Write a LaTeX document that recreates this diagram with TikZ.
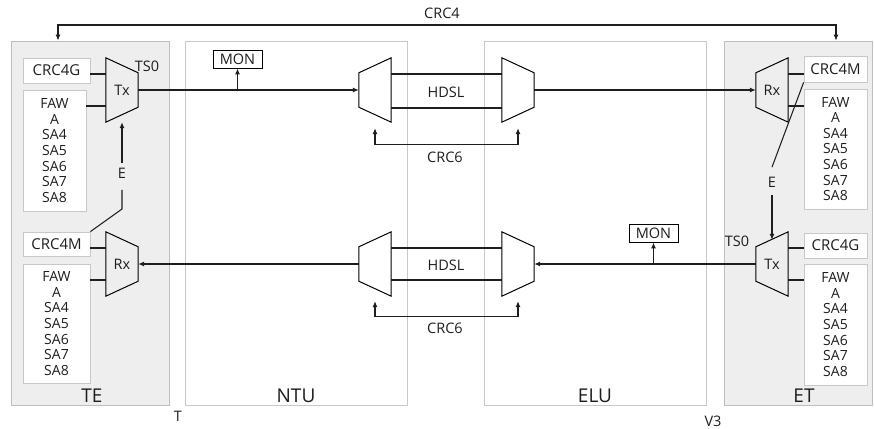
\documentclass[tikz,border=0pt]{standalone}
\usepackage{fontspec}
\setmainfont{Open Sans}
\usetikzlibrary{arrows.meta,calc}
\definecolor{panelfill}{HTML}{EEEEEE}
\definecolor{panelline}{HTML}{BEBEBE}
\definecolor{boxline}{HTML}{C8C8C8}
\definecolor{ink}{HTML}{1E1E1E}

% trapezoid multiplexers drawn on an invisible 32x64 node
\newcommand\muxwideleft[1]{\draw[muxline] (#1.north west) -- ([yshift=-15pt]#1.north east) -- ([yshift=15pt]#1.south east) -- (#1.south west) -- cycle;}
\newcommand\muxwideright[1]{\draw[muxline] ([yshift=-15pt]#1.north west) -- (#1.north east) -- (#1.south east) -- ([yshift=15pt]#1.south west) -- cycle;}

\begin{document}
\begin{tikzpicture}[x=1pt,y=-1pt,
  every node/.style={text=ink, font=\fontsize{14.5}{17}\selectfont},
  panel/.style={draw=panelline, fill=panelfill, line width=0.8pt, inner sep=0pt},
  unit/.style={draw=boxline, fill=white, line width=0.8pt, inner sep=0pt},
  ibox/.style={draw=boxline, fill=white, line width=0.8pt, inner sep=0pt, font=\fontsize{15}{17}\selectfont},
  listbox/.style={ibox, align=center, font=\fontsize{14}{15.6}\selectfont},
  monbox/.style={draw=black, fill=white, line width=0.9pt, inner sep=0pt, minimum width=49pt, minimum height=18pt},
  muxnode/.style={minimum width=32pt, minimum height=64pt, inner sep=0pt},
  muxline/.style={draw=black, line width=1pt},
  wire/.style={draw=ink, line width=1.05pt},
  arr/.style={wire, -{Latex[length=6pt,width=5pt]}},
  darr/.style={wire, {Latex[length=6pt,width=5pt]}-{Latex[length=6pt,width=5pt]}},
  bigl/.style={font=\fontsize{19}{22}\selectfont},
  elab/.style={inner sep=5pt},
]
\path[use as bounding box] (0,0) rectangle (874,428);

% panels
\node[panel, minimum width=158pt, minimum height=364pt] (TE) at (90,223) {};
\node[unit, minimum width=222pt, minimum height=364pt] (NTU) at (296,223) {};
\node[unit, minimum width=222pt, minimum height=364pt] (ELU) at (595,223) {};
\node[panel, minimum width=148pt, minimum height=364pt] (ET) at (798,223) {};

\node[bigl] at (92,396) {TE};
\node[bigl] at (296,396) {NTU};
\node[bigl] at (595,396) {ELU};
\node[bigl] at (804,396) {ET};
\node at (178,416) {T};
\node at (713,421) {V3};

% CRC4 end-to-end check
\coordinate (c4a) at (58,25);
\coordinate (c4b) at (836,25);
\draw[darr] (c4a |- TE.north) -- (c4a) -- (c4b) -- (c4b |- ET.north);
\node at (442,13) {CRC4};

% ---------- upper path: TE Tx -> ET Rx ----------
\node[ibox, minimum width=67pt, minimum height=25pt] (crcG1) at (56.5,70.5) {CRC4G};
\node[listbox, minimum width=63pt, minimum height=121pt] (listA) at (54.5,150.5) {FAW\\A\\SA4\\SA5\\SA6\\SA7\\SA8};
\node[muxnode] (txA) at (122,90) {Tx};
\muxwideleft{txA}
\node at (147,66) {TS0};
\node[monbox] (mon1) at (237.5,59) {MON};

\node[muxnode] (m1) at (375,90) {};
\muxwideright{m1}
\node[muxnode] (m2) at (518,90) {};
\muxwideleft{m2}
\node at (446,92) {HDSL};
\node at (445,157) {CRC6};

\node[muxnode] (rxB) at (772,90) {Rx};
\muxwideright{rxB}
\node[ibox, minimum width=63pt, minimum height=26pt] (crcM2) at (835.5,69) {CRC4M};
\node[listbox, minimum width=63pt, minimum height=120pt] (listD) at (835.5,149) {FAW\\A\\SA4\\SA5\\SA6\\SA7\\SA8};

\coordinate (txAa) at ([yshift=16pt]txA.west);
\coordinate (txAb) at ([yshift=-16pt]txA.west);
\draw[wire] (txAa) -- (txAa -| crcG1.east);
\draw[wire] (txAb) -- (txAb -| listA.east);
\draw[arr] (txA.east) -- (m1.west);
\draw[arr] (mon1.south |- txA.east) -- (mon1.south);
\draw[wire] ([yshift=16pt]m1.east) -- ([yshift=16pt]m2.west);
\draw[wire] ([yshift=-18pt]m1.east) -- ([yshift=-18pt]m2.west);
\draw[arr] (m2.east) -- (rxB.west);
\draw[darr] ([yshift=-6pt]m1.south) -- ++(0,16) -| ([yshift=-6pt]m2.south);
\coordinate (rxBa) at ([yshift=16pt]rxB.east);
\coordinate (rxBb) at ([yshift=-16pt]rxB.east);
\draw[wire] (rxBa) -- (rxBa -| crcM2.west);
\draw[wire] (rxBb) -- (rxBb -| listD.west);

% ---------- lower path: ET Tx -> TE Rx ----------
\node[ibox, minimum width=67pt, minimum height=24pt] (crcM1) at (56.5,244) {CRC4M};
\node[listbox, minimum width=67pt, minimum height=119pt] (listB) at (56.5,323.5) {FAW\\A\\SA4\\SA5\\SA6\\SA7\\SA8};
\node[muxnode] (rxA) at (122,264) {Rx};
\muxwideleft{rxA}

\node[muxnode] (m3) at (375,264) {};
\muxwideright{m3}
\node[muxnode] (m4) at (518,264) {};
\muxwideleft{m4}
\node at (446,265) {HDSL};
\node at (445,328) {CRC6};
\node[monbox] (mon2) at (653.5,233) {MON};

\node[muxnode] (txB) at (772,264) {Tx};
\muxwideright{txB}
\node at (737,241) {TS0};
\node[ibox, minimum width=63pt, minimum height=25pt] (crcG2) at (835.5,245.5) {CRC4G};
\node[listbox, minimum width=63pt, minimum height=121pt] (listE) at (835.5,324.5) {FAW\\A\\SA4\\SA5\\SA6\\SA7\\SA8};

\coordinate (rxAa) at ([yshift=16pt]rxA.west);
\coordinate (rxAb) at ([yshift=-16pt]rxA.west);
\draw[wire] (rxAa) -- (rxAa -| crcM1.east);
\draw[wire] (rxAb) -- (rxAb -| listB.east);
\draw[arr] (m3.west) -- (rxA.east);
\draw[wire] ([yshift=16pt]m3.east) -- ([yshift=16pt]m4.west);
\draw[wire] ([yshift=-16pt]m3.east) -- ([yshift=-16pt]m4.west);
\draw[arr] (txB.west) -- (m4.east);
\draw[arr] (mon2.south |- txB.west) -- (mon2.south);
\draw[darr] ([yshift=-5pt]m3.south) -- ++(0,15) -| ([yshift=-5pt]m4.south);
\coordinate (txBa) at ([yshift=16pt]txB.east);
\coordinate (txBb) at ([yshift=-16pt]txB.east);
\draw[wire] (txBa) -- (txBa -| crcG2.west);
\draw[wire] (txBb) -- (txBb -| listE.west);

% ---------- E bits (remote CRC error indication) ----------
\node[elab] (eA) at (122,173.5) {E};
\coordinate (eAk) at (122,209);
\draw[wire] (crcM1.north east) -- (eAk) -- ([yshift=-6pt]eA.south);
\draw[arr] (eA.north) -- (txA.south);

\node[elab] (eB) at (772,182.5) {E};
\draw[wire] (crcM2.south west) -- ([yshift=5pt]eB.north);
\draw[arr] ([yshift=-2pt]eB.south) -- ([yshift=-8pt]txB.north);
\end{tikzpicture}
\end{document}
